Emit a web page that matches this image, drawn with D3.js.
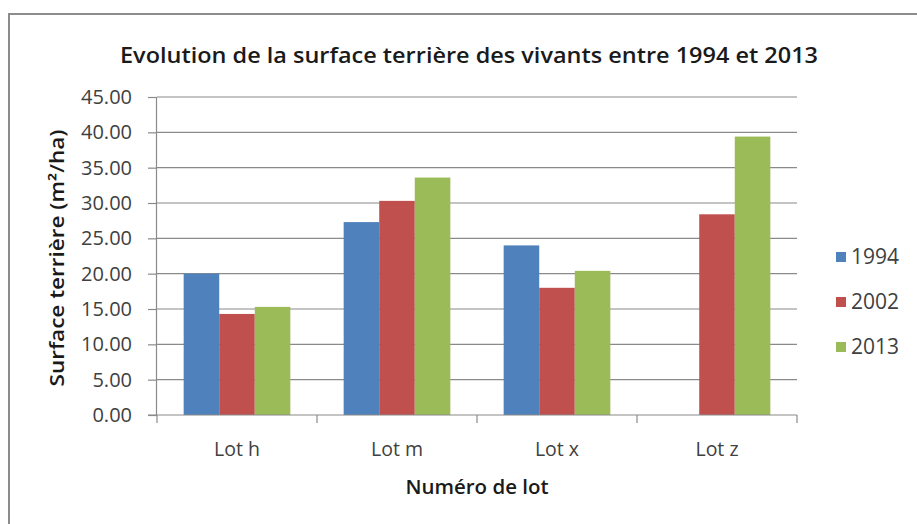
<!DOCTYPE html>
<html><head><meta charset="utf-8">
<script src="https://cdn.jsdelivr.net/npm/d3@7/dist/d3.min.js"></script>
<style>
html,body{margin:0;padding:0;background:#fff;}
text{font-family:"Open Sans","Liberation Sans",sans-serif;}
</style></head>
<body><svg id="c" width="917" height="524"></svg>
<script>
const categories = ["Lot h", "Lot m", "Lot x", "Lot z"];
const seriesNames = ["1994", "2002", "2013"];
const values1994 = [20.0, 27.3, 24.0, null];
const values2002 = [14.3, 30.3, 18.0, 28.4];
const values2013 = [15.3, 33.6, 20.4, 39.4];
const yTicks = [0, 5, 10, 15, 20, 25, 30, 35, 40, 45];
const colors = ["#4F81BD", "#C0504D", "#9BBB59"];
const title = "Evolution de la surface terrière des vivants entre 1994 et 2013";
const yTitle = "Surface terrière (m²/ha)";
const xTitle = "Numéro de lot";

const seriesValues = [values1994, values2002, values2013];
const svg = d3.select("#c");

// frame
svg.append("path").attr("d","M9,524 V14 H917").attr("fill","none").attr("stroke","#8c8c8c").attr("stroke-width",2);

const pLeft = 157, pRight = 797, pTop = 97, pBottom = 415;
const x = d3.scaleBand().domain(categories).range([pLeft, pRight]).paddingInner(0).paddingOuter(0);
const xs = d3.scaleBand().domain(seriesNames).range([0, x.bandwidth()]).paddingInner(0).paddingOuter(0.75);
const y = d3.scaleLinear().domain([0, 45]).range([pBottom, pTop]);

// gridlines
svg.append("g").selectAll("line").data(yTicks.filter(d=>d>0)).join("line")
  .attr("x1", pLeft).attr("x2", pRight).attr("y1", d=>y(d)).attr("y2", d=>y(d))
  .attr("stroke","#8a8a8a").attr("stroke-width",1.2);

// bars
seriesNames.forEach((s, si) => {
  svg.append("g").selectAll("rect")
    .data(categories.map((c,i)=>({c, v: seriesValues[si][i]})).filter(d=>d.v!=null))
    .join("rect")
    .attr("x", d=>x(d.c)+xs(s)).attr("width", xs.bandwidth())
    .attr("y", d=>y(d.v)).attr("height", d=>y(0)-y(d.v))
    .attr("fill", colors[si]);
});

// y axis
const yAxis = d3.axisLeft(y).tickValues(yTicks).tickFormat(d3.format(".2f")).tickSize(9).tickPadding(16);
const gy = svg.append("g").attr("transform",`translate(${pLeft},0)`).call(yAxis);
gy.select(".domain").attr("stroke","#8a8a8a").attr("stroke-width",1.2).attr("d",`M-0.5,${pBottom}V${pTop}`);
gy.selectAll(".tick line").attr("stroke","#8a8a8a").attr("stroke-width",1.2);
gy.selectAll(".tick text").attr("font-size",20).attr("fill","#404040").attr("font-family","Open Sans");

// x axis
const gx = svg.append("g").attr("transform",`translate(0,${pBottom})`);
gx.append("line").attr("x1",pLeft-9).attr("x2",pRight).attr("y1",0).attr("y2",0).attr("stroke","#8a8a8a").attr("stroke-width",1.2);
const bounds = categories.map(c=>x(c)).concat([x(categories[categories.length-1])+x.bandwidth()]);
gx.selectAll("line.t").data(bounds).join("line").attr("class","t")
  .attr("x1",d=>d).attr("x2",d=>d).attr("y1",0).attr("y2",8).attr("stroke","#8a8a8a").attr("stroke-width",1.2);
gx.selectAll("text").data(categories).join("text")
  .attr("x", d=>x(d)+x.bandwidth()/2).attr("y", 41).attr("text-anchor","middle")
  .attr("font-size",19.5).attr("fill","#404040").text(d=>d);

// titles
svg.append("text").attr("x",469).attr("y",63).attr("text-anchor","middle")
  .attr("font-size",21).attr("font-weight",600).attr("fill","#1a1a1a")
  .attr("textLength",698).attr("lengthAdjust","spacingAndGlyphs").text(title);
svg.append("text").attr("transform","translate(64,258) rotate(-90)").attr("text-anchor","middle")
  .attr("font-size",19).attr("font-weight",600).attr("fill","#1a1a1a")
  .attr("textLength",257).attr("lengthAdjust","spacingAndGlyphs").text(yTitle);
svg.append("text").attr("x",477).attr("y",494).attr("text-anchor","middle")
  .attr("font-size",20).attr("font-weight",600).attr("fill","#1a1a1a")
  .attr("textLength",143).attr("lengthAdjust","spacingAndGlyphs").text(xTitle);

// legend
const legendY = [257, 302, 347];
const lg = svg.append("g").selectAll("g").data(seriesNames).join("g")
  .attr("transform",(d,i)=>`translate(836,${legendY[i]})`);
lg.append("rect").attr("x",0).attr("y",-5).attr("width",10).attr("height",10).attr("fill",(d,i)=>colors[i]);
lg.append("text").attr("x",15).attr("y",0).attr("dy","0.35em").attr("font-size",21).attr("fill","#404040").text(d=>d);
</script></body></html>
